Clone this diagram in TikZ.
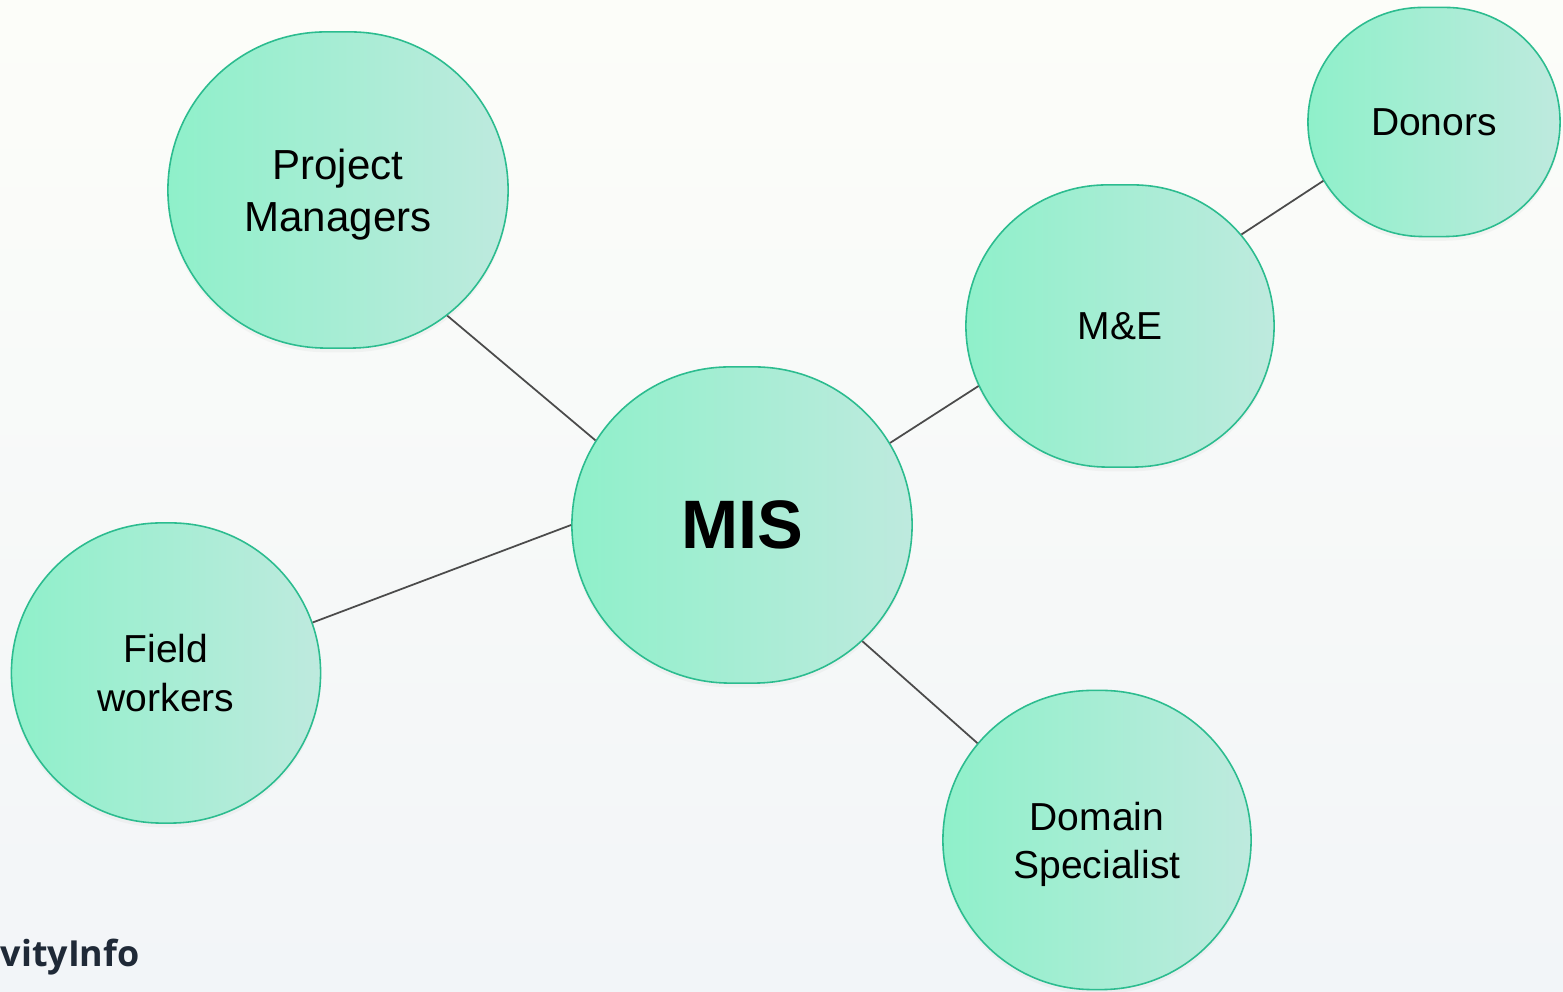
\documentclass[tikz,border=0pt]{standalone}
\usepackage{fontspec}
\setmainfont{Liberation Sans}
\newfontfamily\logofont{Open Sans}
\usepackage{xcolor}
\usetikzlibrary{shapes.misc, shadows}

\definecolor{bgtop}{RGB}{252,253,249}
\definecolor{bgbottom}{RGB}{242,245,248}
\definecolor{mintleft}{RGB}{143,240,202}
\definecolor{mintright}{RGB}{190,234,222}
\definecolor{mintline}{RGB}{44,188,143}
\definecolor{linkgray}{RGB}{75,75,75}
\definecolor{logoink}{RGB}{31,41,55}

\begin{document}
\begin{tikzpicture}[x=0.01cm, y=-0.01cm,
  actor/.style={rounded rectangle, draw=mintline, line width=0.45pt,
    left color=mintleft, right color=mintright, inner sep=0pt, align=center,
    font=\fontsize{11.1}{13.7}\selectfont,
    drop shadow={shadow xshift=0pt, shadow yshift=-1.2pt, opacity=0.06}},
  link/.style={draw=linkgray, line width=0.5pt}]
\path[use as bounding box, top color=bgtop, bottom color=bgbottom] (0,0) rectangle (1563,992);

% stakeholders
\node (pm) [actor, minimum width=3.4cm, minimum height=3.16cm, text depth=0pt, font=\fontsize{11.95}{14.8}\selectfont] at (338,190) {Project\\Managers};
\node (mis) [actor, minimum width=3.4cm, minimum height=3.16cm, font=\bfseries\fontsize{19.5}{23}\selectfont] at (742,525) {MIS};
\node (field) [actor, minimum width=3.09cm, minimum height=3.0cm] at (166,673) {Field\\workers};
\node (me) [actor, minimum width=3.08cm, minimum height=2.82cm] at (1120,326) {M\&E};
\node (donors) [actor, minimum width=2.52cm, minimum height=2.29cm] at (1434,122) {Donors};
\node (domain) [actor, minimum width=3.08cm, minimum height=2.99cm, text depth=0pt] at (1097,840) {Domain\\Specialist};

% links
\draw[link] (pm.-49) -- (mis.150);
\draw[link] (field.19) -- (mis.180);
\draw[link] (mis.29) -- (me.203);
\draw[link] (mis.-44) -- (domain.141);
\draw[link] (me.37) -- (donors.208);

\node (logo) [anchor=base west, inner sep=0pt, text=logoink, font=\logofont\bfseries\fontsize{10.2}{12}\selectfont] at (0,967) {vityInfo};
\end{tikzpicture}
\end{document}
